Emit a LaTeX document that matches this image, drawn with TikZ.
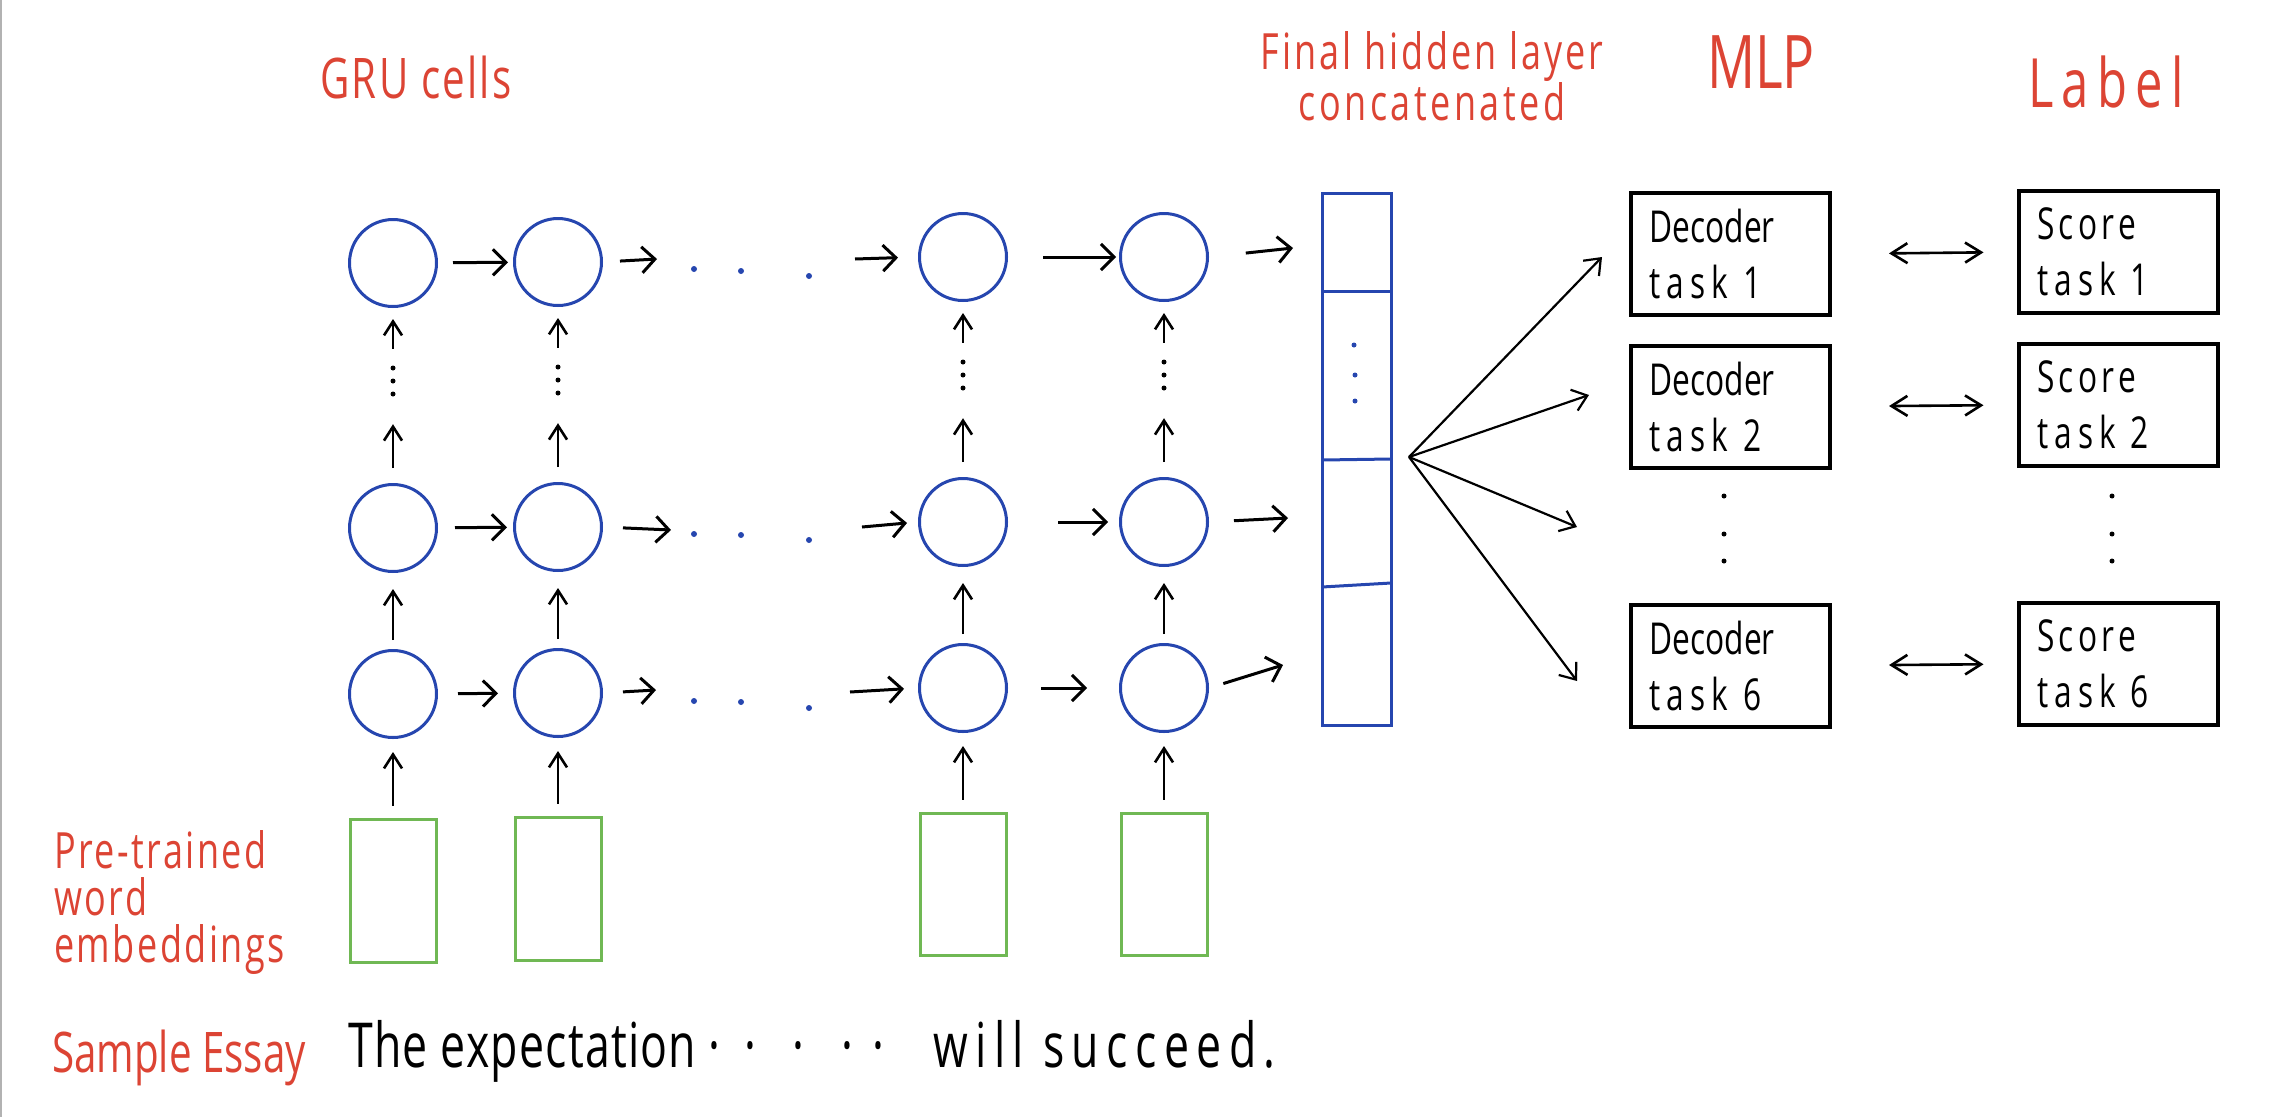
\documentclass[tikz,border=0pt]{standalone}
\usepackage{fontspec}
\newfontfamily\hand[FakeStretch=0.72]{Open Sans}
\newcommand{\lsp}[1]{\addfontfeature{LetterSpace=#1}}
\usetikzlibrary{arrows.meta}
\definecolor{cblue}{RGB}{38,70,175}
\definecolor{cred}{RGB}{220,68,52}
\definecolor{cgreen}{RGB}{112,184,84}
\begin{document}
\begin{tikzpicture}[x=1pt,y=-1pt,
  cell/.style={draw=cblue,line width=3pt,circle,minimum size=87pt,inner sep=0pt},
  emb/.style={draw=cgreen,line width=3pt,rectangle,minimum width=86pt,inner sep=0pt},
  harr/.style={line width=3pt,-{Straight Barb[length=13pt,width=26pt]}},
  varr/.style={line width=2.6pt,-{Straight Barb[length=14pt,width=18pt]}},
  farr/.style={line width=2.2pt,-{Straight Barb[length=14pt,width=22pt]}},
  darr/.style={line width=2.6pt,{Straight Barb[length=16pt,width=20pt]}-{Straight Barb[length=16pt,width=20pt]}},
  bdot/.style={circle,fill=cblue,inner sep=0pt,minimum size=6pt},
  kdot/.style={circle,fill=black,inner sep=0pt,minimum size=5pt},
  box/.style={draw,line width=4pt,rectangle,minimum width=199pt,minimum height=122pt,
    text width=162pt,align=left,inner sep=0pt,font=\hand\fontsize{44}{56}\selectfont},
  lab/.style={text=cred,inner sep=0pt},
]
\useasboundingbox (0,0) rectangle (2281,1117);
\draw[gray!60,line width=2pt] (1,0) -- (1,1117);

% GRU grid
\foreach \k/\x/\yt/\ym/\yb/\et/\eb in {1/393/263/528/694/819/962,2/558/262/527/693/817/960,3/963/257/522/688/813/955,4/1164/257/522/688/813/955}{
  \node[cell] (c1\k) at (\x,\yt) {};
  \node[cell] (c2\k) at (\x,\ym) {};
  \node[cell] (c3\k) at (\x,\yb) {};
  \node[emb,minimum height={\eb-\et}] (e\k) at (\x,{(\et+\eb)/2}) {};
  \node[inner sep=0pt,minimum width=8pt,minimum height=30pt] (v\k) at (\x,{\ym-147}) {};
  \node[kdot] at (\x,{\ym-160}) {};
  \node[kdot] at (\x,{\ym-147}) {};
  \node[kdot] at (\x,{\ym-134}) {};
  \draw[varr,shorten <=12pt,shorten >=13pt] (e\k.north) -- (c3\k.south);
  \draw[varr,shorten <=9pt,shorten >=16pt] (c3\k.north) -- (c2\k.south);
  \draw[varr,shorten <=15pt,shorten >=28pt] (c2\k.north) -- (v\k.south);
  \draw[varr,shorten <=17pt,shorten >=11pt] (v\k.north) -- (c1\k.south);
}

% row-wise free ends
\coordinate (hA1) at (657,259);
\coordinate (hB1) at (855,259);
\coordinate (o1) at (1293,248);
\coordinate (hA2) at (671,530);
\coordinate (hB2) at (862,527);
\coordinate (o2) at (1288,518);
\coordinate (hA3) at (656,690);
\coordinate (hB3) at (850,692);
\coordinate (o3) at (1283,665);

% blue dots
\node[bdot] (p11) at (694,269) {};
\node[bdot] (p12) at (741,271) {};
\node[bdot] (p13) at (809,276) {};
\node[bdot] (p21) at (694,534) {};
\node[bdot] (p22) at (741,535) {};
\node[bdot] (p23) at (809,540) {};
\node[bdot] (p31) at (694,701) {};
\node[bdot] (p32) at (741,702) {};
\node[bdot] (p33) at (809,708) {};

% top row arrows
\draw[harr,shorten <=15pt,shorten >=5pt] (c11) -- (c12);
\draw[harr,shorten <=17pt] (c12.east) -- (hA1);
\draw[harr,shorten >=20pt] (hB1) -- (c13.west);
\draw[harr,shorten <=35pt,shorten >=3pt] (c13) -- (c14);
\draw[harr,shorten <=37pt] (c14.east) -- (o1);
% middle row arrows
\draw[harr,shorten <=17pt,shorten >=6pt] (c21) -- (c22);
\draw[harr,shorten <=20pt] (c22.east) -- (hA2);
\draw[harr,shorten >=11pt] (hB2) -- (c23.west);
\draw[harr,shorten <=50pt,shorten >=11pt] (c23) -- (c24);
\draw[harr,shorten <=25pt] (c24.east) -- (o2);
% bottom row arrows
\draw[harr,shorten <=20pt,shorten >=15pt] (c31) -- (c32);
\draw[harr,shorten <=20pt] (c32.east) -- (hA3);
\draw[harr,shorten >=14pt] (hB3) -- (c33.west);
\draw[harr,shorten <=33pt,shorten >=32pt] (c33) -- (c34);
\draw[harr,shorten <=15pt] (c34.east) -- (o3);

% concatenated vector
\node[draw=cblue,line width=3pt,rectangle,minimum width=69pt,minimum height=532pt,inner sep=0pt] (cv) at (1356.5,459) {};
\draw[cblue,line width=3pt] (1322,291) -- (1391,291);
\draw[cblue,line width=3pt] (1322,460) -- (1391,459);
\draw[cblue,line width=3pt] (1322,587) -- (1391,583);
\node[bdot,minimum size=5pt] at (1354,345) {};
\node[bdot,minimum size=5pt] at (1355,375) {};
\node[bdot,minimum size=5pt] at (1355,401) {};

% decoders and scores
\node[box] (d1) at (1730.5,254) {Decoder\\{\lsp{14}task 1}};
\node[box] (d2) at (1730.5,406.5) {Decoder\\{\lsp{14}task 2}};
\node[box] (d3) at (1730.5,665.5) {Decoder\\{\lsp{14}task 6}};
\node[box] (s1) at (2118,252) {{\lsp{10}Score}\\{\lsp{14}task 1}};
\node[box] (s2) at (2118,405) {{\lsp{10}Score}\\{\lsp{14}task 2}};
\node[box] (s3) at (2118,664) {{\lsp{10}Score}\\{\lsp{14}task 6}};

\foreach \xx in {1724,2112}{
  \node[kdot] at (\xx,496) {};
  \node[kdot] at (\xx,534) {};
  \node[kdot] at (\xx,561) {};
}

% fan
\coordinate (fan) at (1409,457);
\coordinate (t1) at (1602,257);
\coordinate (t2) at (1589,395);
\coordinate (t3) at (1577,527);
\coordinate (t4) at (1577,681);
\draw[farr] (fan) -- (t1);
\draw[farr] (fan) -- (t2);
\draw[farr] (fan) -- (t3);
\draw[farr] (fan) -- (t4);

% double arrows
\draw[darr,shorten <=57pt,shorten >=33pt] (d1.east) -- (s1.west);
\draw[darr,shorten <=57pt,shorten >=33pt] (d2.east) -- (s2.west);
\draw[darr,shorten <=57pt,shorten >=33pt] (d3.east) -- (s3.west);

% labels
\node[lab,font=\hand\fontsize{56}{60}\selectfont] (lgru) at (416,77) {\lsp{4}GRU cells};
\node[lab,align=center,font=\hand\fontsize{50}{43}\selectfont] (lfin) at (1432,76) {\lsp{6}Final hidden layer\\\lsp{7}concatenated};
\node[lab,font=\hand\fontsize{74}{80}\selectfont] (lmlp) at (1761,62) {MLP};
\node[lab,font=\hand\fontsize{68}{72}\selectfont] (llab) at (2106,82) {\lsp{12}Label};
\node[lab,align=left,anchor=north west,font=\hand\fontsize{50}{47}\selectfont] (lemb) at (54,830) {\lsp{5}Pre-trained\\\lsp{5}word\\\lsp{5}embeddings};
\node[lab,anchor=base west,font=\hand\fontsize{56}{60}\selectfont] (less) at (52,1072) {Sample Essay};
\node[anchor=base west,inner sep=0pt,font=\hand\fontsize{62}{70}\selectfont] (sentA) at (348,1067) {\lsp{2}The expectation};
\node[anchor=base west,inner sep=0pt,font=\hand\fontsize{62}{70}\selectfont] (sentB) at (708,1067) {·\hspace{24pt}·\hspace{37pt}·\hspace{37pt}·\hspace{19pt}·};
\node[anchor=base west,inner sep=0pt,font=\hand\fontsize{62}{70}\selectfont] (sentC) at (933,1067) {\lsp{12}will succeed.};
\end{tikzpicture}
\end{document}
